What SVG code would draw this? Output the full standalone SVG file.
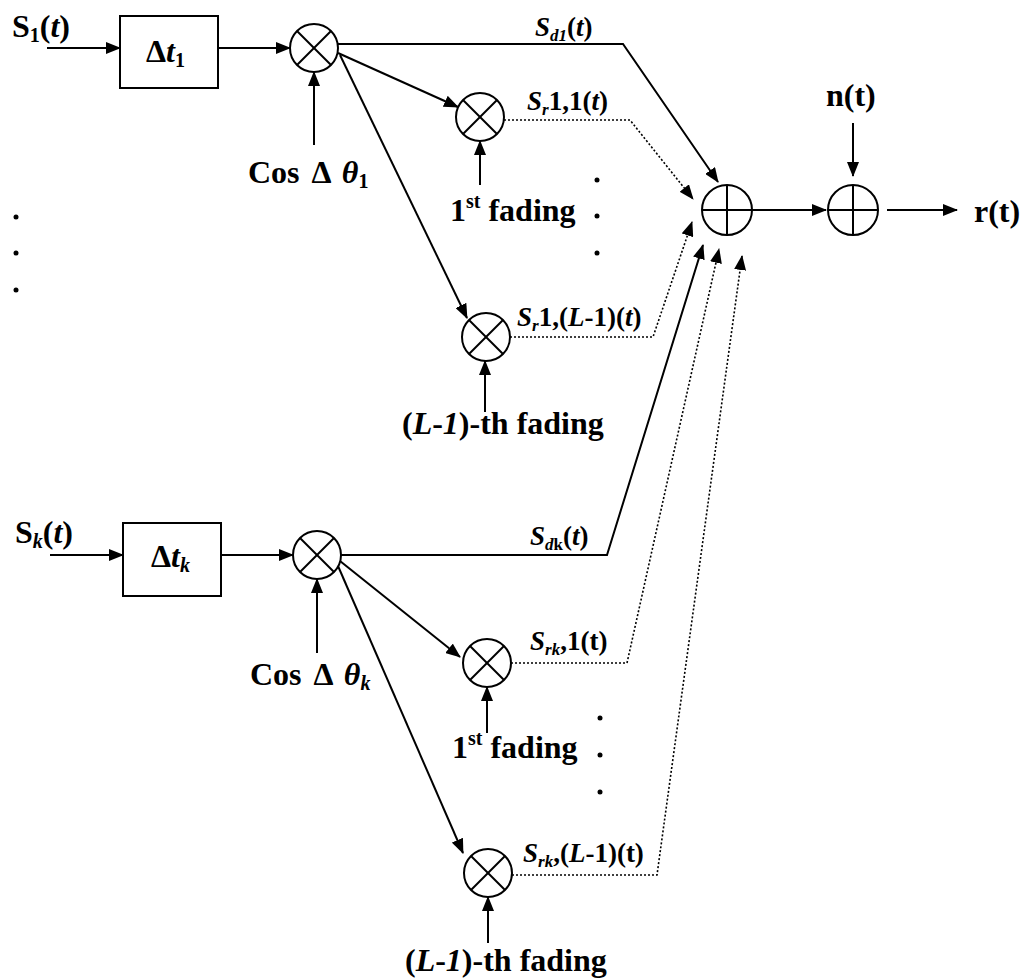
<svg xmlns="http://www.w3.org/2000/svg" width="1029" height="978" viewBox="0 0 1029 978">
<defs>
<marker id="ah" markerUnits="userSpaceOnUse" markerWidth="15" markerHeight="12" refX="14" refY="6" orient="auto">
<path d="M0,0 L15,6 L0,12 z" fill="#000"/>
</marker>
<style>
text{font-family:'Liberation Serif','DejaVu Serif',serif;font-weight:bold;fill:#000}
.lg{font-size:32px}
.md{font-size:27px}
.sub{font-size:20px}
.ssub{font-size:17px}
.it{font-style:italic}
.ws{word-spacing:4px}
.ln{fill:none;stroke:#000;stroke-width:2}
.dt{fill:none;stroke:#000;stroke-width:1.6;stroke-dasharray:2 2}
.node circle,.node rect{fill:#fff;stroke:#000;stroke-width:2}
.node line{stroke:#000;stroke-width:2}
.dot{fill:#000}
</style>
</defs>
<rect width="1029" height="978" fill="#fff"/>

<g id="connectors">
<line class="ln" x1="47" y1="48" x2="120" y2="48" marker-end="url(#ah)"/>
<line class="ln" x1="218" y1="48" x2="290" y2="48" marker-end="url(#ah)"/>
<line class="ln" x1="314" y1="145" x2="314" y2="72" marker-end="url(#ah)"/>
<line class="ln" x1="338" y1="53" x2="458" y2="107" marker-end="url(#ah)"/>
<line class="ln" x1="340" y1="55" x2="467" y2="318" marker-end="url(#ah)"/>
<polyline class="ln" points="338,44 623,44 718,182" marker-end="url(#ah)"/>
<polyline class="dt" points="504,120 630,120 693,199" marker-end="url(#ah)"/>
<line class="ln" x1="480" y1="185" x2="480" y2="141" marker-end="url(#ah)"/>
<polyline class="dt" points="510,337 653,337 692,222" marker-end="url(#ah)"/>
<line class="ln" x1="485" y1="412" x2="485" y2="361" marker-end="url(#ah)"/>

<line class="ln" x1="50" y1="555" x2="123" y2="555" marker-end="url(#ah)"/>
<line class="ln" x1="221" y1="555" x2="293" y2="555" marker-end="url(#ah)"/>
<line class="ln" x1="317" y1="653" x2="317" y2="579" marker-end="url(#ah)"/>
<polyline class="ln" points="341,555 607,555 703,245" marker-end="url(#ah)"/>
<line class="ln" x1="340" y1="561" x2="460" y2="657" marker-end="url(#ah)"/>
<line class="ln" x1="338" y1="566" x2="463" y2="853" marker-end="url(#ah)"/>
<polyline class="dt" points="511,663 627,663 719,249" marker-end="url(#ah)"/>
<line class="ln" x1="487" y1="733" x2="487" y2="687" marker-end="url(#ah)"/>
<polyline class="dt" points="512,875 657,875 742,256" marker-end="url(#ah)"/>
<line class="ln" x1="488" y1="943" x2="488" y2="897" marker-end="url(#ah)"/>

<line class="ln" x1="752" y1="210" x2="826" y2="210" marker-end="url(#ah)"/>
<line class="ln" x1="853" y1="123" x2="853" y2="176" marker-end="url(#ah)"/>
<line class="ln" x1="887" y1="210" x2="957" y2="210" marker-end="url(#ah)"/>
</g>

<g id="delay1" class="node">
<rect x="120" y="16" width="98" height="72"/>
<text class="lg" x="146" y="62">Δ<tspan class="it">t</tspan><tspan class="sub" dy="5">1</tspan></text>
</g>
<g id="mult1" class="node">
<circle cx="314" cy="48" r="24"/>
<line x1="297" y1="31" x2="331" y2="65"/><line x1="331" y1="31" x2="297" y2="65"/>
</g>
<g id="mult1a" class="node">
<circle cx="480" cy="117" r="24"/>
<line x1="463" y1="100" x2="497" y2="134"/><line x1="497" y1="100" x2="463" y2="134"/>
</g>
<g id="mult1b" class="node">
<circle cx="486" cy="337" r="24"/>
<line x1="469" y1="320" x2="503" y2="354"/><line x1="503" y1="320" x2="469" y2="354"/>
</g>

<g id="delayk" class="node">
<rect x="123" y="523" width="98" height="73"/>
<text class="lg" x="151" y="567">Δ<tspan class="it">t</tspan><tspan class="sub it" dy="5">k</tspan></text>
</g>
<g id="multk" class="node">
<circle cx="317" cy="555" r="24"/>
<line x1="300" y1="538" x2="334" y2="572"/><line x1="334" y1="538" x2="300" y2="572"/>
</g>
<g id="multka" class="node">
<circle cx="487" cy="663" r="24"/>
<line x1="470" y1="646" x2="504" y2="680"/><line x1="504" y1="646" x2="470" y2="680"/>
</g>
<g id="multkb" class="node">
<circle cx="488" cy="873" r="24"/>
<line x1="471" y1="856" x2="505" y2="890"/><line x1="505" y1="856" x2="471" y2="890"/>
</g>

<g id="sum1" class="node">
<circle cx="727" cy="210" r="25"/>
<line x1="702" y1="210" x2="752" y2="210"/><line x1="727" y1="185" x2="727" y2="235"/>
</g>
<g id="sum2" class="node">
<circle cx="853" cy="210" r="25"/>
<line x1="828" y1="210" x2="878" y2="210"/><line x1="853" y1="185" x2="853" y2="235"/>
</g>

<g id="labels">
<text class="lg" x="12" y="37">S<tspan class="sub" dy="5">1</tspan><tspan dy="-5">(</tspan><tspan class="it">t</tspan>)</text>
<text class="lg ws" x="248" y="183">Cos Δ <tspan class="it">θ</tspan><tspan class="sub" dy="5">1</tspan></text>
<text class="md it" x="535" y="36">S<tspan class="ssub" dy="5">d1</tspan><tspan dy="-5" font-style="normal">(</tspan>t<tspan font-style="normal">)</tspan></text>
<text class="md" x="527" y="110"><tspan class="it">S</tspan><tspan class="ssub it" dy="5">r</tspan><tspan dy="-5">1,1(</tspan><tspan class="it">t</tspan>)</text>
<text class="lg" x="450" y="221">1<tspan class="sub" dy="-13">st</tspan><tspan dy="13"> fading</tspan></text>
<text class="md" x="517" y="326"><tspan class="it">S</tspan><tspan class="ssub it" dy="5">r</tspan><tspan dy="-5">1,(</tspan><tspan class="it">L</tspan>-1)(<tspan class="it">t</tspan>)</text>
<text class="lg" x="402" y="434">(<tspan class="it">L</tspan>-<tspan class="it">1</tspan>)-th fading</text>
<text class="lg" x="826" y="106">n(t)</text>
<text class="lg" x="974" y="222">r(t)</text>

<text class="lg" x="15" y="543">S<tspan class="sub it" dy="5">k</tspan><tspan dy="-5">(</tspan><tspan class="it">t</tspan>)</text>
<text class="lg ws" x="250" y="685">Cos Δ <tspan class="it">θ</tspan><tspan class="sub it" dy="5">k</tspan></text>
<text class="md" x="530" y="545"><tspan class="it">S</tspan><tspan class="ssub it" dy="5">d</tspan><tspan class="ssub">k</tspan><tspan dy="-5">(</tspan><tspan class="it">t</tspan>)</text>
<text class="md" x="530" y="650"><tspan class="it">S</tspan><tspan class="ssub it" dy="5">rk</tspan><tspan dy="-5">,1(t)</tspan></text>
<text class="lg" x="452" y="758">1<tspan class="sub" dy="-13">st</tspan><tspan dy="13"> fading</tspan></text>
<text class="md" x="523" y="862"><tspan class="it">S</tspan><tspan class="ssub it" dy="5">rk</tspan><tspan dy="-5">,(</tspan><tspan class="it">L</tspan>-1)(t)</text>
<text class="lg" x="405" y="971">(<tspan class="it">L</tspan>-<tspan class="it">1</tspan>)-th fading</text>
</g>

<g id="dots">
<circle class="dot" cx="16" cy="217" r="2.5"/>
<circle class="dot" cx="16" cy="253" r="2.5"/>
<circle class="dot" cx="16" cy="290" r="2.5"/>
<circle class="dot" cx="597" cy="180" r="2.5"/>
<circle class="dot" cx="597" cy="216" r="2.5"/>
<circle class="dot" cx="597" cy="253" r="2.5"/>
<circle class="dot" cx="600" cy="718" r="2.5"/>
<circle class="dot" cx="600" cy="755" r="2.5"/>
<circle class="dot" cx="600" cy="792" r="2.5"/>
</g>
</svg>
